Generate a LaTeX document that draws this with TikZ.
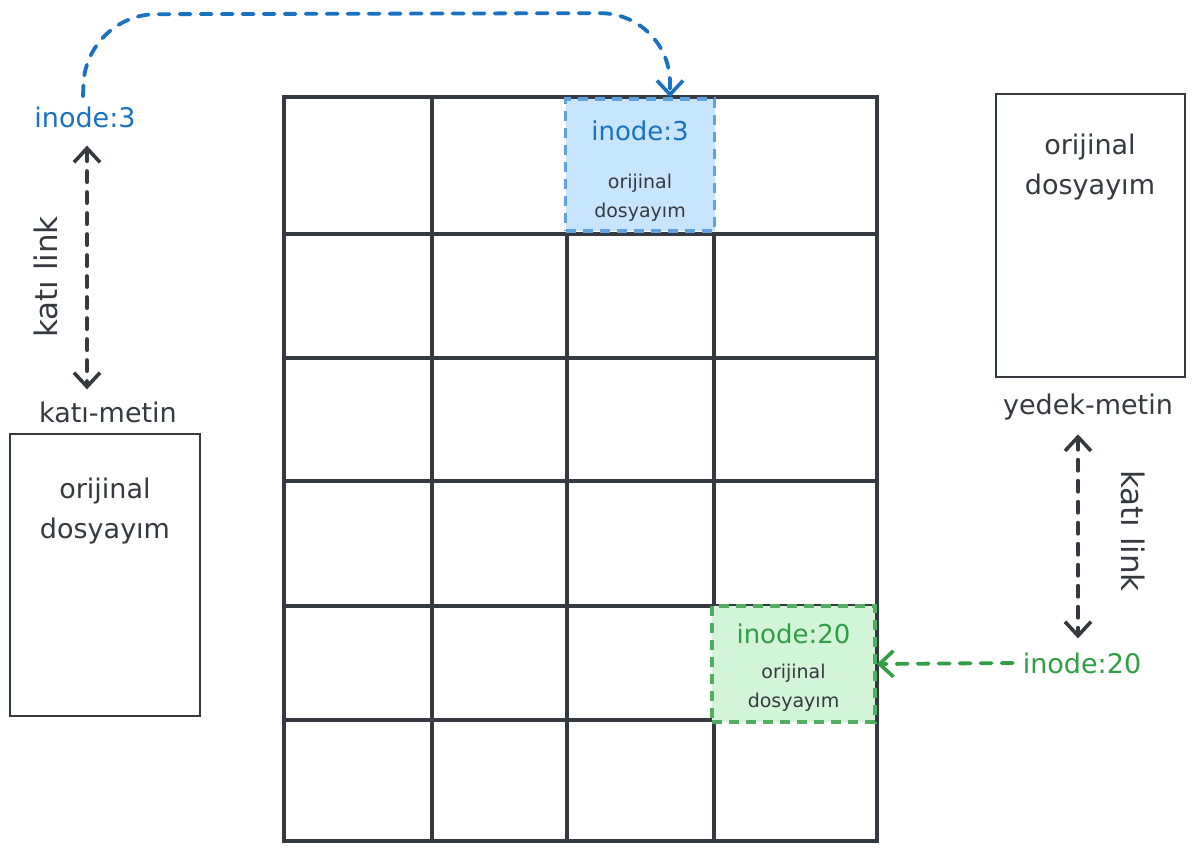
\documentclass[tikz,border=0pt]{standalone}
\usepackage{fontspec}
\setmainfont{DejaVu Sans}
\usetikzlibrary{arrows.meta}
\definecolor{ink}{HTML}{343A40}
\definecolor{bblue}{HTML}{1971C2}
\definecolor{bbord}{HTML}{5FA2DD}
\definecolor{bfill}{HTML}{C8E5FF}
\definecolor{ggreen}{HTML}{2F9E44}
\definecolor{gbord}{HTML}{4FAE5F}
\definecolor{gfill}{HTML}{D1F5D6}
\tikzset{
  gridline/.style={draw=ink, line width=3.4pt},
  filebox/.style={draw=ink, line width=2pt, fill=white},
  lbl/.style={font=\fontsize{27}{31}\selectfont, text=ink, inner sep=0pt},
  biglbl/.style={font=\fontsize{27}{40}\selectfont, text=ink, align=center, inner sep=0pt},
  smalllbl/.style={font=\fontsize{19}{29}\selectfont, text=ink, align=center, inner sep=0pt},
  hilite/.style={line width=3.6pt, dash pattern=on 10pt off 7pt},
  barb/.style={-{Straight Barb[length=14pt,width=26pt,line width=3.6pt]}},
  dbarb/.style={{Straight Barb[length=14pt,width=26pt,line width=3.6pt]}-{Straight Barb[length=14pt,width=26pt,line width=3.6pt]}},
  dashlink/.style={line width=3.8pt, dash pattern=on 11pt off 10pt, line cap=round}
}
\begin{document}
\begin{tikzpicture}[x=1pt,y=-1pt]
\useasboundingbox (0,0) rectangle (1195,854);
% grid
\draw[gridline] (284,97) rectangle (877,841);
\foreach \yy in {234,358,481,606,720} \draw[gridline] (284,\yy) -- (877,\yy);
\draw[gridline] (432,97) -- (432,841);
\draw[gridline] (567,234) -- (567,841);
\draw[gridline] (714,234) -- (714,841);
% highlighted cells
\node[draw=bbord, fill=bfill, hilite, minimum width=149pt, minimum height=132pt, inner sep=0pt] (bluebox) at (640,165) {};
\node[font=\fontsize{26}{30}\selectfont, text=bblue, inner sep=0pt] (bluetitle) at (640,131) {inode:3};
\node[smalllbl] (bluetext) at (640,198) {orijinal\\dosyayım};
\node[draw=gbord, fill=gfill, hilite, minimum width=163pt, minimum height=116pt, inner sep=0pt] (greenbox) at (793.5,664) {};
\node[font=\fontsize{26}{30}\selectfont, text=ggreen, inner sep=0pt] (greentitle) at (793.5,634) {inode:20};
\node[smalllbl] (greentext) at (793.5,688) {orijinal\\dosyayım};
% left file
\node[filebox, minimum width=190pt, minimum height=282pt, inner sep=0pt] (leftbox) at (105,575) {};
\node[biglbl] (lefttext) at (105,511) {orijinal\\dosyayım};
\node[lbl] (katimetin) at (108,412) {katı-metin};
\node[font=\fontsize{27}{31}\selectfont, text=bblue, inner sep=0pt] (inodeA) at (85,117) {inode:3};
\node[lbl, rotate=90, font=\fontsize{31}{35}\selectfont] (linkA) at (46,277) {katı link};
% right file
\node[filebox, minimum width=189pt, minimum height=283pt, inner sep=0pt] (rightbox) at (1090.5,235.5) {};
\node[biglbl] (righttext) at (1090,167) {orijinal\\dosyayım};
\node[lbl] (yedek) at (1088,407) {yedek-metin};
\node[font=\fontsize{27}{31}\selectfont, text=ggreen, inner sep=0pt] (inodeB) at (1082,663) {inode:20};
\node[lbl, rotate=-90, font=\fontsize{31}{35}\selectfont] (linkB) at (1133,531) {katı link};
% connectors
\draw[dashlink, draw=ink, dbarb] ([xshift=2pt,yshift=-18pt]inodeA.south) -- ([xshift=-21pt,yshift=12pt]katimetin.north);
\draw[dashlink, draw=ink, dbarb] ([xshift=-10pt,yshift=-14pt]yedek.south) -- ([xshift=-4pt,yshift=14pt]inodeB.north);
\draw[dashlink, draw=ggreen, barb] (inodeB.west) ++(-10pt,0) coordinate (gstart) -- (greenbox.east);
\draw[dashlink, draw=bblue, barb, rounded corners=70pt] ([xshift=-2pt,yshift=10pt]inodeA.north) -- ++(3,-82) -- ([xshift=30pt]bluebox.north |- 0,13) -- ([xshift=30pt]bluebox.north);
\end{tikzpicture}
\end{document}
